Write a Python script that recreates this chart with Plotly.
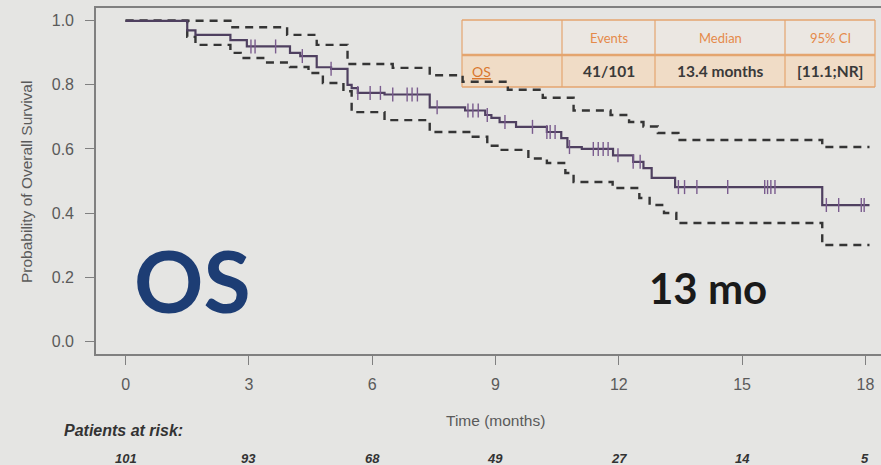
import numpy as np
import plotly.graph_objects as go

# ---------------- data ----------------
km_t = [0, 1.5, 1.7, 2.55, 2.95, 4.0, 4.25, 4.65, 5.0, 5.4, 5.5, 5.65, 6.3, 7.4, 8.26, 8.75, 8.9,
        9.1, 9.5, 10.25, 10.6, 10.75, 11.1, 11.86, 12.35, 12.6, 12.8, 13.37, 16.95, 18.1]
km_s = [1.0, 0.97, 0.956, 0.94, 0.92, 0.90, 0.89, 0.855, 0.85, 0.80, 0.79, 0.775, 0.77, 0.73, 0.72,
        0.706, 0.697, 0.684, 0.669, 0.653, 0.634, 0.606, 0.60, 0.58, 0.56, 0.54, 0.51, 0.481, 0.425, 0.425]

up_t = [0, 2.55, 3.93, 4.65, 5.4, 6.5, 7.4, 8.2, 9.3, 10.15, 10.9, 11.8, 12.25, 12.6, 12.95, 13.45, 16.95, 18.1]
up_s = [1.0, 0.98, 0.956, 0.925, 0.865, 0.853, 0.83, 0.81, 0.785, 0.76, 0.72, 0.706, 0.684, 0.67, 0.65,
        0.628, 0.606, 0.606]

lo_t = [0, 1.5, 1.7, 2.55, 2.8, 3.4, 4.0, 4.45, 4.8, 5.3, 5.5, 6.3, 7.4, 8.4, 8.8, 9.1, 9.8, 10.25, 10.7,
        10.9, 11.85, 12.5, 12.75, 13.1, 13.4, 16.95, 18.1]
lo_s = [1.0, 0.95, 0.925, 0.90, 0.884, 0.87, 0.856, 0.837, 0.806, 0.78, 0.715, 0.69, 0.653, 0.638, 0.61,
        0.597, 0.57, 0.556, 0.525, 0.497, 0.478, 0.447, 0.425, 0.40, 0.369, 0.30, 0.30]

censor_t = [3.05, 3.15, 3.65, 4.3, 5.0, 5.65, 5.95, 6.2, 6.5, 6.85, 6.97, 7.1, 7.58, 8.33, 8.45, 8.58,
            8.8, 9.23, 9.9, 10.25, 10.33, 10.45, 10.8, 11.38, 11.5, 11.62, 11.74, 11.98, 12.35, 12.52,
            13.45, 13.6, 13.9, 14.65, 15.55, 15.62, 15.7, 15.8, 17.05, 17.35, 17.9, 17.97]

x_ticks = [0, 3, 6, 9, 12, 15, 18]
at_risk = [101, 93, 68, 49, 27, 14, 5]
y_ticks = [0.0, 0.2, 0.4, 0.6, 0.8, 1.0]
y_ticklabels = ["0.0", "0.2", "0.4", "0.6", "0.8", "1.0"]

table_header = ["", "Events", "Median", "95% CI"]
table_row = ["OS", "41/101", "13.4 months", "[11.1;NR]"]

# ---------------- layout geometry ----------------
W, H = 881, 465
L, R, T, B = 96, 881, 8, 354


def px_x(px):
    return (px - L) / (R - L)


def px_y(py):
    return (B - py) / (B - T)


BG = "#e5e5e3"
KM_COL = "#4f4060"
CEN_COL = "#7a5c8e"
CI_COL = "#353535"
AX_COL = "#808080"
TXT_COL = "#5a5a5a"

fig = go.Figure()

for tt, ss in [(up_t, up_s), (lo_t, lo_s)]:
    fig.add_trace(go.Scatter(x=tt, y=ss, mode="lines", line_shape="hv",
                             line=dict(color=CI_COL, width=2.4, dash="8px,6px"),
                             hoverinfo="skip", showlegend=False))

fig.add_trace(go.Scatter(x=km_t, y=km_s, mode="lines", line_shape="hv",
                         line=dict(color=KM_COL, width=2.2), showlegend=False))

idx = np.searchsorted(np.array(km_t), np.array(censor_t), side="right") - 1
cen_s = np.array(km_s)[idx]
fig.add_trace(go.Scatter(x=censor_t, y=cen_s, mode="markers",
                         marker=dict(symbol="line-ns", size=10,
                                     line=dict(color=CEN_COL, width=1.4)),
                         showlegend=False))

# ---------------- table ----------------
cols_px = [462, 562, 655, 785, 875]
rows_px = [20, 55, 87]
ORANGE = "#e4a56f"
shapes = []
shapes.append(dict(type="rect", xref="paper", yref="paper", layer="below",
                   x0=px_x(cols_px[0]), x1=px_x(cols_px[-1]), y0=px_y(rows_px[0]), y1=px_y(rows_px[1]),
                   fillcolor="#ebe7e2", line=dict(width=0)))
shapes.append(dict(type="rect", xref="paper", yref="paper", layer="below",
                   x0=px_x(cols_px[0]), x1=px_x(cols_px[-1]), y0=px_y(rows_px[1]), y1=px_y(rows_px[2]),
                   fillcolor="#f0dcc6", line=dict(width=0)))
for ry, w in zip(rows_px, [1.5, 2.5, 1.5]):
    shapes.append(dict(type="line", xref="paper", yref="paper", layer="below",
                       x0=px_x(cols_px[0]), x1=px_x(cols_px[-1]), y0=px_y(ry), y1=px_y(ry),
                       line=dict(color=ORANGE, width=w)))
for cx in cols_px:
    shapes.append(dict(type="line", xref="paper", yref="paper", layer="below",
                       x0=px_x(cx), x1=px_x(cx), y0=px_y(rows_px[0]), y1=px_y(rows_px[2]),
                       line=dict(color=ORANGE, width=1.2)))

annotations = []


def ann(**kw):
    kw.setdefault("showarrow", False)
    kw.setdefault("xanchor", "center")
    kw.setdefault("yanchor", "middle")
    kw.setdefault("xref", "paper")
    kw.setdefault("yref", "paper")
    annotations.append(kw)


for i in range(4):
    cxm = (cols_px[i] + cols_px[i + 1]) / 2
    if table_header[i]:
        ann(x=px_x(cxm), y=px_y(38), text=table_header[i],
            font=dict(family="Lato", size=13, color="#e58a4a"))
    if i == 0:
        ann(x=px_x(470), y=px_y(71), xanchor="left", text="<u>" + table_row[i] + "</u>",
            font=dict(family="Lato", size=14, color="#d9772e"))
    else:
        ann(x=px_x(cxm), y=px_y(71), text="<b>" + table_row[i] + "</b>",
            font=dict(family="Lato", size=15.5, color="#3a3a3a"))

# big labels
ann(x=px_x(192), y=px_y(279), text="<b>OS</b>",
    font=dict(family="Lato", size=86, color="#1d3d74"))
ann(x=px_x(708), y=px_y(288), text="<b>13 mo</b>",
    font=dict(family="Lato", size=42, color="#1a1a1a"))

# y axis title
ann(x=px_x(26), y=px_y(182), text="Probability of Overall Survival", textangle=-90,
    font=dict(family="Liberation Sans", size=15.5, color=TXT_COL))
# x axis title
ann(xref="x", x=9, y=px_y(420), text="Time (months)",
    font=dict(family="Liberation Sans", size=15.5, color=TXT_COL))
# at risk
ann(x=px_x(62), y=px_y(430), xanchor="left", text="<b><i>Patients at risk:</i></b>",
    font=dict(family="Liberation Sans", size=16, color="#333333"))
for xt, n in zip(x_ticks, at_risk):
    ann(xref="x", x=xt, y=px_y(458), text="<b><i>%d</i></b>" % n,
        font=dict(family="Liberation Sans", size=13, color="#333333"))

fig.update_layout(
    width=W, height=H, margin=dict(l=L, r=W - R, t=T, b=H - B),
    paper_bgcolor=BG, plot_bgcolor=BG,
    shapes=shapes, annotations=annotations, showlegend=False,
    xaxis=dict(range=[-0.72, -0.72 + (R - L) / 41.1], tickvals=x_ticks,
               ticktext=[str(v) for v in x_ticks], ticks="outside", ticklen=9,
               tickcolor=AX_COL, tickwidth=1.3, showline=True, mirror=True, linecolor=AX_COL,
               linewidth=1.6, showgrid=False, zeroline=False, ticklabelstandoff=6,
               tickfont=dict(family="Liberation Sans", size=16, color=TXT_COL)),
    yaxis=dict(range=[-0.04, 1.04], tickvals=y_ticks, ticktext=y_ticklabels, ticks="outside",
               ticklen=9, tickcolor=AX_COL, tickwidth=1.3, showline=True, mirror=False,
               linecolor=AX_COL, linewidth=1.6, showgrid=False, zeroline=False,
               ticklabelstandoff=8,
               tickfont=dict(family="Liberation Sans", size=16, color=TXT_COL)),
)

fig.write_html("out.html")
